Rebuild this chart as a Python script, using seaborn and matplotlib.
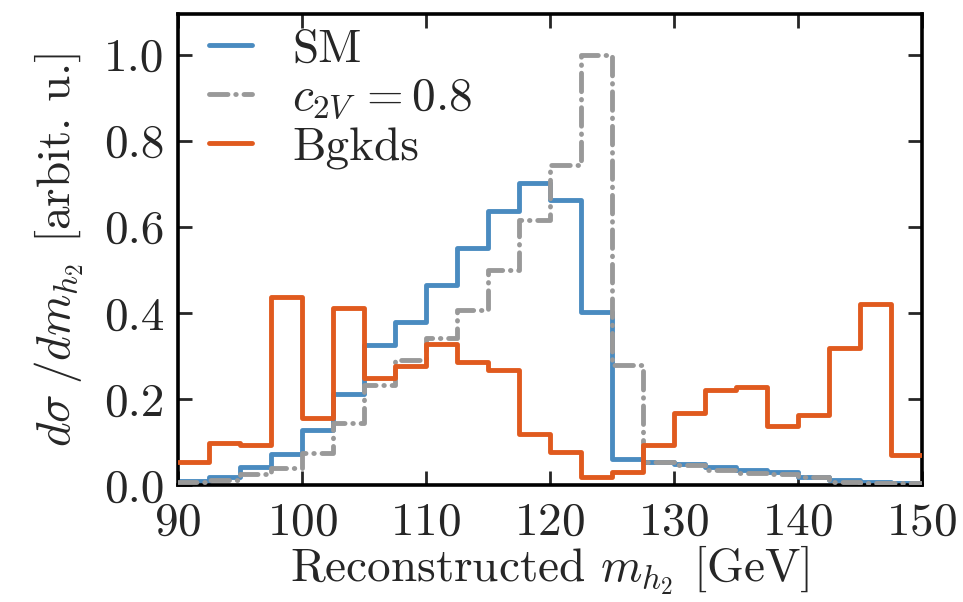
import numpy as np
import pandas as pd
import matplotlib
matplotlib.use("Agg")
import matplotlib.pyplot as plt
import seaborn as sns

# bin edges (2.5 GeV bins from 90 to 150)
edges = [90 + 2.5 * i for i in range(25)]
centers = [e + 1.25 for e in edges[:-1]]

sm = [0.010, 0.019, 0.043, 0.072, 0.128, 0.213, 0.326, 0.378, 0.464, 0.550, 0.637, 0.702,
      0.663, 0.402, 0.060, 0.054, 0.050, 0.043, 0.036, 0.031, 0.019, 0.012, 0.008, 0.005]
c2v = [0.008, 0.012, 0.026, 0.041, 0.075, 0.145, 0.233, 0.291, 0.343, 0.407, 0.500, 0.615,
       0.744, 1.000, 0.279, 0.054, 0.047, 0.035, 0.029, 0.026, 0.019, 0.008, 0.005, 0.004]
bgkds = [0.054, 0.098, 0.093, 0.438, 0.155, 0.411, 0.250, 0.277, 0.329, 0.287, 0.267, 0.119,
         0.078, 0.019, 0.031, 0.093, 0.167, 0.221, 0.229, 0.137, 0.163, 0.319, 0.422, 0.070]

df = pd.DataFrame({"m": centers, "sm": sm, "c2v": c2v, "bgkds": bgkds})

sns.set_style("ticks")
plt.rcParams["font.family"] = "serif"
plt.rcParams["font.serif"] = ["cmr10", "DejaVu Serif"]
plt.rcParams["mathtext.fontset"] = "cm"
plt.rcParams["axes.formatter.use_mathtext"] = True

fig = plt.figure(figsize=(9.63, 6.02), dpi=100)
ax = fig.add_axes([0.185, 0.194, 0.772, 0.783])

fs = 34
lw = 3.5
sns.histplot(data=df, x="m", weights="sm", bins=edges, element="step", fill=False,
             color="#4a8bc0", linewidth=lw, label="SM", ax=ax, zorder=2)
sns.histplot(data=df, x="m", weights="c2v", bins=edges, element="step", fill=False,
             color="#999999", linewidth=lw, linestyle=(0, (3.8, 1.6, 0.1, 1.6)),
             dash_capstyle="round", label=r"$c_{2V}\,=0.8$", ax=ax, zorder=3)
sns.histplot(data=df, x="m", weights="bgkds", bins=edges, element="step", fill=False,
             color="#e05a1e", linewidth=lw, label="Bgkds", ax=ax, zorder=4)

ax.set_xlim(90, 150)
ax.set_ylim(0, 1.095)
ax.set_xticks([90, 100, 110, 120, 130, 140, 150])
ax.set_yticks([0.0, 0.2, 0.4, 0.6, 0.8, 1.0])
ax.set_yticklabels(["0.0", "0.2", "0.4", "0.6", "0.8", "1.0"])

ax.tick_params(direction="in", length=10, width=2, labelsize=fs,
               top=True, right=True)
ax.tick_params(axis="x", pad=12)
ax.tick_params(axis="y", pad=10)
for s in ax.spines.values():
    s.set_linewidth(2.6)
    s.set_color("black")

ax.set_xlabel(r"Reconstructed $m_{h_2}$ [GeV]", fontsize=fs, labelpad=0)
ax.set_ylabel(r"$d\sigma\;/dm_{h_2}$ [arbit. u.]", fontsize=fs, labelpad=13)

ax.legend(loc="upper left", bbox_to_anchor=(0.042, 0.968), frameon=False,
          fontsize=fs, handlelength=0.9, handletextpad=0.85, labelspacing=0.12,
          borderaxespad=0.0, borderpad=0.0)

fig.savefig("out.png", dpi=100)
